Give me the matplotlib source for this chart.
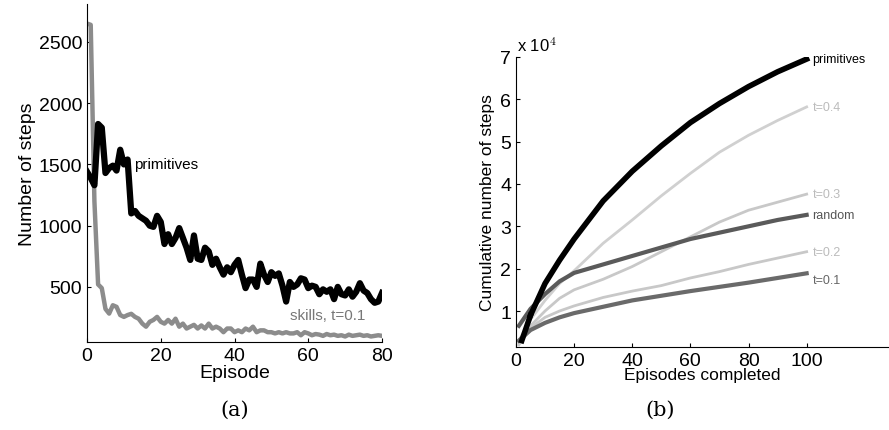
import matplotlib
matplotlib.use("Agg")
import matplotlib.pyplot as plt
import numpy as np

plt.rcParams['font.family'] = ['Liberation Sans', 'DejaVu Sans']
plt.rcParams['mathtext.fontset'] = 'cm'

# (a) steps per episode
episodes = list(range(0, 81))
prim_steps = [1440, 1390, 1330, 1830, 1800, 1430, 1470, 1490, 1450, 1620,
              1500, 1540, 1100, 1120, 1080, 1060, 1040, 1000, 990, 1080,
              1030, 850, 930, 850, 900, 980, 900, 820, 720, 920,
              730, 720, 820, 790, 680, 730, 660, 600, 660, 620,
              680, 720, 600, 490, 560, 560, 500, 690, 600, 540,
              620, 590, 610, 510, 380, 540, 500, 520, 570, 560,
              490, 510, 500, 440, 480, 460, 480, 400, 500, 440,
              430, 480, 420, 460, 530, 470, 450, 400, 370, 380, 450]
skill_steps = [2650, 2640, 1200, 520, 490, 320, 282, 350, 337, 270,
               255, 270, 280, 255, 240, 200, 175, 215, 230, 255,
               215, 200, 230, 200, 240, 175, 200, 160, 175, 190,
               160, 185, 160, 200, 160, 175, 160, 130, 160, 160,
               130, 145, 130, 160, 145, 175, 130, 145, 145, 130,
               130, 120, 130, 120, 130, 120, 120, 130, 105, 130,
               120, 105, 115, 110, 100, 115, 105, 110, 100, 105,
               95, 110, 100, 105, 110, 100, 105, 95, 100, 105, 100]

# (b) cumulative steps (x 10^4)
ep_done = [1, 5, 10, 15, 20, 30, 40, 50, 60, 70, 80, 90, 100]
cum_prim = [0.12, 0.9, 1.65, 2.2, 2.7, 3.6, 4.3, 4.9, 5.45, 5.9, 6.3, 6.65, 6.95]
cum_t04 = [0.3, 0.8, 1.25, 1.65, 1.95, 2.6, 3.15, 3.72, 4.25, 4.75, 5.15, 5.5, 5.82]
cum_t03 = [0.25, 0.65, 1.0, 1.3, 1.5, 1.75, 2.05, 2.4, 2.75, 3.1, 3.38, 3.57, 3.76]
cum_rand = [0.65, 1.05, 1.4, 1.7, 1.9, 2.1, 2.3, 2.5, 2.7, 2.85, 3.0, 3.15, 3.27]
cum_t02 = [0.2, 0.6, 0.85, 1.0, 1.12, 1.32, 1.47, 1.6, 1.78, 1.93, 2.1, 2.25, 2.4]
cum_t01 = [0.3, 0.55, 0.72, 0.85, 0.95, 1.1, 1.25, 1.36, 1.47, 1.57, 1.67, 1.78, 1.89]

fig = plt.figure(figsize=(8.89, 4.31), dpi=100)

# ---- panel (a)
ax1 = fig.add_axes([0.0979, 0.2042, 0.3318, 0.7842])
ax1.plot(episodes, skill_steps, color='#8c8c8c', lw=3.2, solid_joinstyle='round')
ax1.plot(episodes, prim_steps, color='black', lw=4.5, solid_joinstyle='round')
ax1.set_xlim(0, 80)
ax1.set_ylim(50, 2810)
ax1.set_xticks([0, 20, 40, 60, 80])
ax1.set_yticks([500, 1000, 1500, 2000, 2500])
ax1.spines['top'].set_visible(False)
ax1.spines['right'].set_visible(False)
ax1.tick_params(direction='in', labelsize=14, length=3)
ax1.set_xlabel('Episode', fontsize=14, labelpad=0)
ax1.set_ylabel('Number of steps', fontsize=14, labelpad=2)
ax1.text(12.8, 1500, 'primitives', fontsize=11, va='center')
ax1.text(55, 210, 'skills, t=0.1', fontsize=11, color='#777777', va='bottom')

# ---- panel (b)
ax2 = fig.add_axes([0.5804, 0.1926, 0.4185, 0.6729])
series = [(cum_t04, '#d0d0d0', 2.0, 't=0.4'),
          (cum_t03, '#c8c8c8', 2.0, 't=0.3'),
          (cum_t02, '#c8c8c8', 2.0, 't=0.2'),
          (cum_rand, '#5a5a5a', 3.0, 'random'),
          (cum_t01, '#6a6a6a', 3.0, 't=0.1')]
for vals, col, lw, lab in series:
    ax2.plot(ep_done, vals, color=col, lw=lw)
ax2.plot(ep_done[1:], cum_prim[1:], color='black', lw=4)
ax2.plot([2, 5], [0.3, cum_prim[1]], color='black', lw=4)
labels = [(cum_prim[-1], 'primitives', 'black'),
          (cum_t04[-1], 't=0.4', '#bbbbbb'),
          (cum_t03[-1], 't=0.3', '#bbbbbb'),
          (cum_rand[-1], 'random', '#555555'),
          (cum_t02[-1], 't=0.2', '#bbbbbb'),
          (cum_t01[-1] - 0.15, 't=0.1', '#666666')]
for yv, lab, col in labels:
    ax2.text(102, yv, lab, fontsize=9, color=col, va='center')
ax2.set_xlim(0, 128)
ax2.set_ylim(0.15, 7)
ax2.set_xticks([0, 20, 40, 60, 80, 100])
ax2.set_yticks([1, 2, 3, 4, 5, 6, 7])
ax2.spines['top'].set_visible(False)
ax2.spines['right'].set_visible(False)
ax2.tick_params(direction='in', labelsize=14, length=3)
ax2.set_xlabel('Episodes completed', fontsize=12.5, labelpad=-1)
ax2.set_ylabel('Cumulative number of steps', fontsize=12.5, labelpad=4)
ax2.text(0.003, 1.01, r'x 10$^{4}$', transform=ax2.transAxes, fontsize=12,
         va='bottom', ha='left', family=['Liberation Sans'])

fig.text(0.264, 0.047, '(a)', fontsize=15, family=['DejaVu Serif'], ha='center', va='center')
fig.text(0.742, 0.047, '(b)', fontsize=15, family=['DejaVu Serif'], ha='center', va='center')

fig.savefig('out.png', dpi=100)
